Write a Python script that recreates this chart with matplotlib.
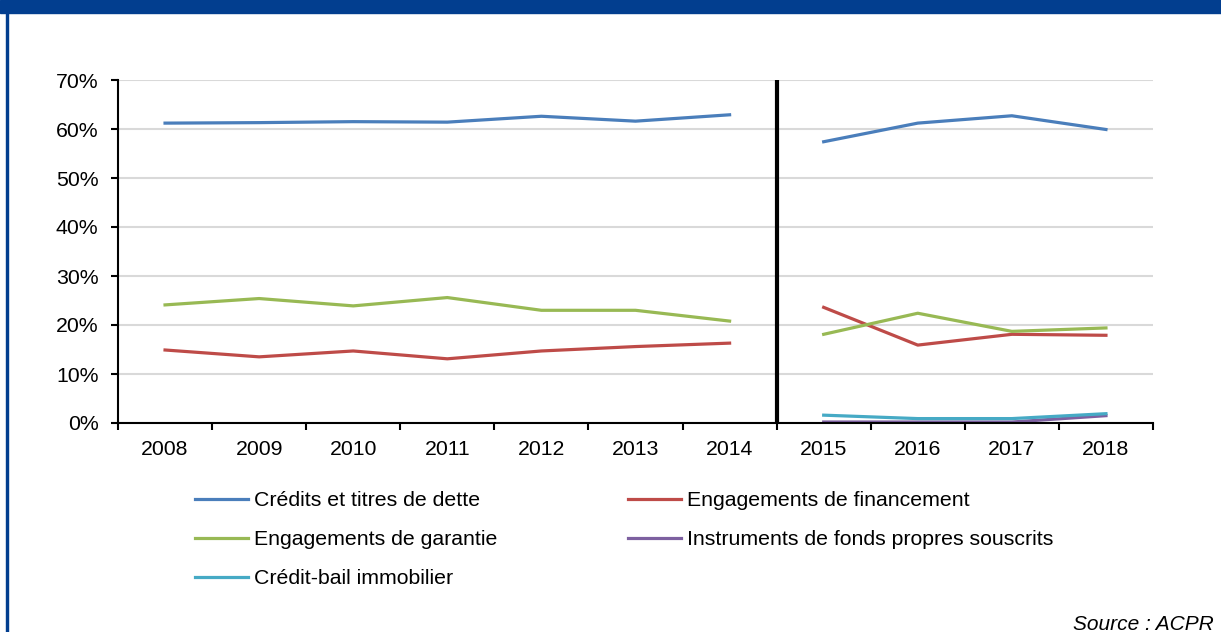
import numpy as np
import matplotlib
matplotlib.use("Agg")
import matplotlib.pyplot as plt
from matplotlib.patches import Rectangle

plt.rcParams['font.family'] = ['Liberation Sans', 'DejaVu Sans']

annees = ['2008', '2009', '2010', '2011', '2012', '2013', '2014',
          '2015', '2016', '2017', '2018']

# deux séries de données : 2008-2014 puis 2015-2018 (rupture de série)
credits_1 = [61.2, 61.3, 61.5, 61.4, 62.6, 61.6, 62.9]
credits_2 = [57.4, 61.2, 62.7, 59.9]
financement_1 = [14.9, 13.5, 14.7, 13.1, 14.7, 15.6, 16.3]
financement_2 = [23.6, 15.9, 18.1, 17.9]
garantie_1 = [24.1, 25.4, 23.9, 25.6, 23.0, 23.0, 20.8]
garantie_2 = [18.1, 22.4, 18.7, 19.4]
fonds_propres_2 = [0.2, 0.2, 0.2, 1.5]
credit_bail_2 = [1.6, 0.9, 0.9, 1.9]

noms = ['Crédits et titres de dette', 'Engagements de financement',
        'Engagements de garantie', 'Instruments de fonds propres souscrits',
        'Crédit-bail immobilier']
couleurs = ['#4a7ebb', '#be4b48', '#98b954', '#7d60a0', '#46aac5']

fig = plt.figure(figsize=(12.21, 6.32), dpi=100)

# bandeau bleu en haut et filet à gauche
fig.patches.append(Rectangle((0, 1 - 13 / 632), 1, 13 / 632, transform=fig.transFigure,
                             color='#023e8f', zorder=0))
fig.patches.append(Rectangle((6 / 1221, 0), 2 / 1221, 1, transform=fig.transFigure,
                             color='#023e8f', zorder=0))

ax = fig.add_axes([118 / 1221, 1 - 423 / 632, 1035 / 1221, 343 / 632])

x1 = np.arange(7)
x2 = np.arange(7, 11)
lw = 2.3
lignes = []
lignes.append(ax.plot(x1, credits_1, color=couleurs[0], lw=lw)[0])
ax.plot(x2, credits_2, color=couleurs[0], lw=lw)
lignes.append(ax.plot(x1, financement_1, color=couleurs[1], lw=lw)[0])
ax.plot(x2, financement_2, color=couleurs[1], lw=lw)
lignes.append(ax.plot(x1, garantie_1, color=couleurs[2], lw=lw)[0])
ax.plot(x2, garantie_2, color=couleurs[2], lw=lw)
lignes.append(ax.plot(x2, fonds_propres_2, color=couleurs[3], lw=lw)[0])
lignes.append(ax.plot(x2, credit_bail_2, color=couleurs[4], lw=lw)[0])

# séparation entre les deux périodes
ax.axvline(6.5, color='black', lw=3, zorder=5)

ax.set_xlim(-0.5, 10.5)
ax.set_ylim(0, 70)
ax.set_yticks(np.arange(0, 71, 10))
ax.set_yticklabels([f'{v}%' for v in range(0, 71, 10)])
ax.set_xticks(np.arange(11))
ax.set_xticklabels(annees)
ax.set_xticks(np.arange(-0.5, 11, 1), minor=True)
ax.tick_params(axis='x', which='major', length=0, pad=12, labelsize=15.3)
ax.tick_params(axis='x', which='minor', length=5, width=1.5, direction='out')
ax.tick_params(axis='y', length=5, width=1.5, pad=9, labelsize=15.3)
ax.grid(axis='y', color='#d9d9d9', lw=1.5)
ax.set_axisbelow(True)
for s in ['top', 'right']:
    ax.spines[s].set_visible(False)
ax.spines['left'].set_linewidth(1.5)
ax.spines['bottom'].set_linewidth(1.5)

ordre = [0, 2, 4, 1, 3]
fig.legend([lignes[i] for i in ordre], [noms[i] for i in ordre],
           loc='upper left', bbox_to_anchor=(195 / 1221, 1 - 491 / 632),
           ncol=2, frameon=False, fontsize=15.3, handlelength=2.5,
           handletextpad=0.3, columnspacing=6.1, labelspacing=0.95,
           borderpad=0, borderaxespad=0)

fig.text(1073 / 1221, 1 - 630 / 632, 'Source : ACPR', fontsize=15, style='italic',
         ha='left', va='baseline')

fig.savefig('out.png', dpi=100)
